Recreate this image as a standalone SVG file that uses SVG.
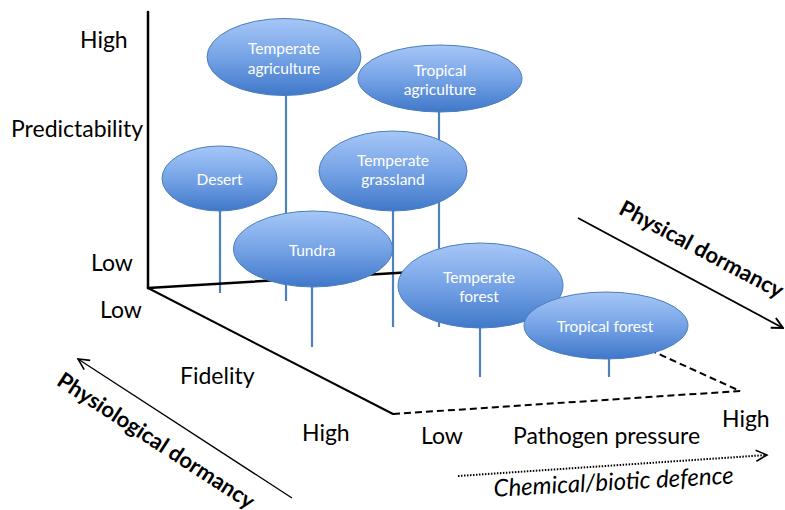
<svg xmlns="http://www.w3.org/2000/svg" width="785" height="510" viewBox="0 0 785 510">
  <defs>
    <linearGradient id="blueGrad" x1="0" y1="0" x2="0" y2="1">
      <stop offset="0" stop-color="#a6c7f7"/>
      <stop offset="0.5" stop-color="#76a3e6"/>
      <stop offset="1" stop-color="#3f78c9"/>
    </linearGradient>
    <marker id="arrowOpen" viewBox="0 0 14 14" refX="12.5" refY="7" markerWidth="14" markerHeight="14" markerUnits="userSpaceOnUse" orient="auto">
      <path d="M1.5,1.5 L12.5,7 L1.5,12.5" fill="none" stroke="#000" stroke-width="1.6"/>
    </marker>
    <marker id="arrowOpenThick" viewBox="0 0 14 14" refX="12.5" refY="7" markerWidth="14" markerHeight="14" markerUnits="userSpaceOnUse" orient="auto">
      <path d="M1.5,1.5 L12.5,7 L1.5,12.5" fill="none" stroke="#000" stroke-width="2"/>
    </marker>
  </defs>
  <style>
    .node ellipse { fill: url(#blueGrad); stroke: #4a7ebb; stroke-width: 1; }
    .node text { font-family: Lato, "Open Sans", "Liberation Sans", sans-serif; font-size: 15.5px; fill: #ffffff; text-anchor: middle; }
    .stem { stroke: #4f81bd; stroke-width: 2.2; fill: none; }
    .axis { stroke: #000; stroke-width: 2.5; fill: none; stroke-linecap: round; }
    .dashed { stroke: #000; stroke-width: 2; fill: none; stroke-dasharray: 7 4; }
    .label { font-family: Lato, "Open Sans", "Liberation Sans", sans-serif; font-size: 23px; fill: #000; }
    .bold { font-family: Lato, "Open Sans", "Liberation Sans", sans-serif; font-size: 22px; font-weight: bold; fill: #000; text-anchor: middle; }
    .ital { font-family: Lato, "Open Sans", "Liberation Sans", sans-serif; font-size: 24px; font-style: italic; fill: #000; text-anchor: middle; }
  </style>

  <g id="connectors">
    <!-- stems -->
    <line class="stem" x1="220" y1="205" x2="220" y2="293"/>
    <line class="stem" x1="286" y1="90" x2="286" y2="301"/>
    <line class="stem" x1="312" y1="280" x2="312" y2="347"/>
    <line class="stem" x1="393" y1="205" x2="393" y2="327"/>
    <line class="stem" x1="439" y1="105" x2="439" y2="327"/>
    <line class="stem" x1="480" y1="320" x2="480" y2="377"/>
    <line class="stem" x1="609" y1="352" x2="609" y2="377"/>
    <!-- axes -->
    <line class="axis" x1="148" y1="12" x2="148" y2="288"/>
    <line class="axis" x1="148" y1="288" x2="480" y2="268"/>
    <line class="axis" x1="148" y1="288" x2="393" y2="414" style="stroke-width:2"/>
    <polyline class="dashed" points="393,414 740,391 628,340"/>
    <!-- direction arrows -->
    <line x1="292" y1="498" x2="78" y2="359" stroke="#000" stroke-width="1.3" marker-end="url(#arrowOpen)"/>
    <line x1="578" y1="218" x2="783" y2="328" stroke="#000" stroke-width="1.8" marker-end="url(#arrowOpenThick)"/>
    <line x1="458" y1="476" x2="767" y2="455" stroke="#000" stroke-width="2" stroke-dasharray="1.5 1.5" marker-end="url(#arrowOpen)"/>
  </g>

  <g id="temperate-agriculture" class="node">
    <ellipse cx="284" cy="57" rx="77" ry="38.5"/>
    <text x="284" y="54">Temperate</text>
    <text x="284" y="74">agriculture</text>
  </g>
  <g id="tropical-agriculture" class="node">
    <ellipse cx="440" cy="78.5" rx="82" ry="33.5"/>
    <text x="440" y="76">Tropical</text>
    <text x="440" y="95">agriculture</text>
  </g>
  <g id="desert" class="node">
    <ellipse cx="219.5" cy="178.5" rx="57.5" ry="32.5"/>
    <text x="219.5" y="185">Desert</text>
  </g>
  <g id="temperate-grassland" class="node">
    <ellipse cx="393" cy="171" rx="74" ry="40"/>
    <text x="393" y="166">Temperate</text>
    <text x="393" y="185">grassland</text>
  </g>
  <g id="tundra" class="node">
    <ellipse cx="313" cy="249" rx="79.5" ry="38"/>
    <text x="312" y="256">Tundra</text>
  </g>
  <g id="temperate-forest" class="node">
    <ellipse cx="480.5" cy="285.5" rx="82.5" ry="42.5"/>
    <text x="479" y="283">Temperate</text>
    <text x="479" y="302">forest</text>
  </g>
  <g id="tropical-forest" class="node">
    <ellipse cx="606" cy="325.5" rx="82" ry="33.5"/>
    <text x="605" y="332">Tropical forest</text>
  </g>

  <g id="axis-labels">
    <text class="label" x="80" y="48">High</text>
    <text class="label" x="11" y="137">Predictability</text>
    <text class="label" x="91" y="271">Low</text>
    <text class="label" x="100" y="318">Low</text>
    <text class="label" x="180" y="384">Fidelity</text>
    <text class="label" x="302" y="441">High</text>
    <text class="label" x="421" y="444">Low</text>
    <text class="label" x="513" y="444">Pathogen pressure</text>
    <text class="label" x="722" y="427">High</text>
    <text class="bold" transform="translate(698,256) rotate(28)">Physical dormancy</text>
    <text class="bold" transform="translate(152,447) rotate(33)">Physiological dormancy</text>
    <text class="ital" transform="translate(614,490) rotate(-3.2)">Chemical/biotic defence</text>
  </g>
</svg>
